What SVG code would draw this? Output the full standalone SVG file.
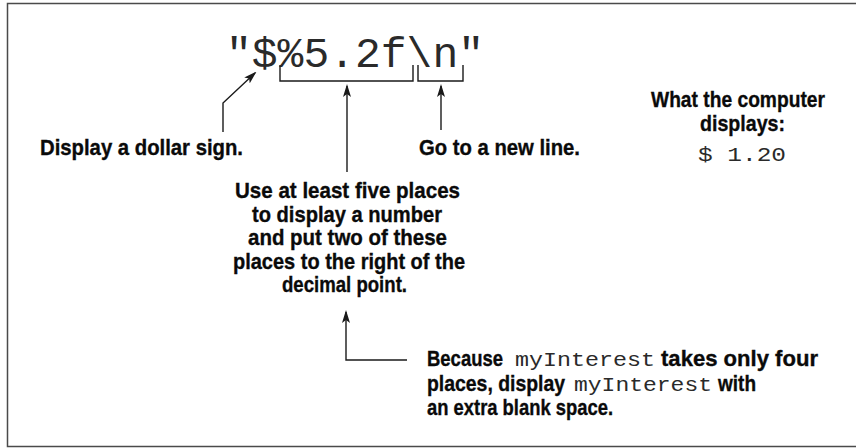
<svg xmlns="http://www.w3.org/2000/svg" width="856" height="448" viewBox="0 0 856 448">
<style>
.b{font-family:"Liberation Sans Narrow","Liberation Sans",Arial,sans-serif;font-weight:bold;font-size:22.5px;fill:#0a0a0a;stroke:#0a0a0a;stroke-width:0.35}
.m{font-family:"Liberation Mono","Courier New",monospace;fill:#2a2a2a}
.ln{fill:none;stroke:#1a1a1a;stroke-width:1.4}
</style>
<defs>
<marker id="ah" viewBox="0 0 13 8" refX="11" refY="4" markerWidth="13" markerHeight="8" orient="auto" markerUnits="userSpaceOnUse">
<path d="M0,0 L13,4 L0,8 L3,4 z" fill="#1a1a1a"/>
</marker>
</defs>
<rect x="7.5" y="3.5" width="880" height="443" fill="#fff" stroke="#4a4a4a" stroke-width="1.5"/>
<g id="format">
<text class="m" x="226" y="67" font-size="42" textLength="258" lengthAdjust="spacingAndGlyphs">"$%5.2f\n"</text>
</g>
<g id="connectors">
<path class="ln" d="M280,65 V81 H413 V65"/>
<path class="ln" d="M418,65 V81 H463 V65"/>
<path class="ln" d="M223,132 V103 L255,73" marker-end="url(#ah)"/>
<path class="ln" d="M347,172 V86" marker-end="url(#ah)"/>
<path class="ln" d="M441,130 V86" marker-end="url(#ah)"/>
<path class="ln" d="M407,360 H346 V312" marker-end="url(#ah)"/>
</g>
<g id="dollar-label">
<text class="b" x="40" y="155" textLength="203" lengthAdjust="spacingAndGlyphs">Display a dollar sign.</text>
</g>
<g id="newline-label">
<text class="b" x="419" y="155" textLength="161" lengthAdjust="spacingAndGlyphs">Go to a new line.</text>
</g>
<g id="width-label">
<text class="b" x="235" y="198" textLength="225" lengthAdjust="spacingAndGlyphs">Use at least five places</text>
<text class="b" x="252" y="221.5" textLength="190" lengthAdjust="spacingAndGlyphs">to display a number</text>
<text class="b" x="248" y="245" textLength="199" lengthAdjust="spacingAndGlyphs">and put two of these</text>
<text class="b" x="233" y="268.5" textLength="232" lengthAdjust="spacingAndGlyphs">places to the right of the</text>
<text class="b" x="282" y="292" textLength="125" lengthAdjust="spacingAndGlyphs">decimal point.</text>
</g>
<g id="blank-label">
<text class="b" x="427" y="366" textLength="76" lengthAdjust="spacingAndGlyphs">Because</text>
<text class="m" x="515" y="366" font-size="21" textLength="140" lengthAdjust="spacingAndGlyphs">myInterest</text>
<text class="b" x="661" y="366" textLength="157" lengthAdjust="spacingAndGlyphs">takes only four</text>
<text class="b" x="427" y="391" textLength="138" lengthAdjust="spacingAndGlyphs">places, display</text>
<text class="m" x="574" y="391" font-size="21" textLength="138" lengthAdjust="spacingAndGlyphs">myInterest</text>
<text class="b" x="718" y="391" textLength="38" lengthAdjust="spacingAndGlyphs">with</text>
<text class="b" x="427" y="415" textLength="186" lengthAdjust="spacingAndGlyphs">an extra blank space.</text>
</g>
<g id="output-label">
<text class="b" x="651" y="107" textLength="174" lengthAdjust="spacingAndGlyphs">What the computer</text>
<text class="b" x="700" y="131" textLength="85" lengthAdjust="spacingAndGlyphs">displays:</text>
</g>
<g id="output-value">
<text class="m" x="698" y="161" font-size="21" textLength="88" lengthAdjust="spacingAndGlyphs">$ 1.20</text>
</g>
</svg>
